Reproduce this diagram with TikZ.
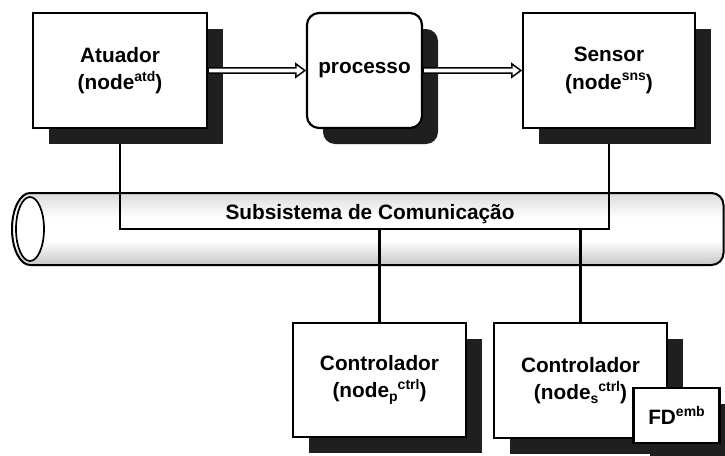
\documentclass[tikz,border=0pt]{standalone}
\usepackage{fontspec}
\setmainfont{Liberation Sans}
\usetikzlibrary{shadows,backgrounds,calc}

% raised / lowered index text after a word
\newcommand\supx[1]{\raisebox{8.5pt}{\fontsize{14}{14}\selectfont #1}}
\newcommand\subx[1]{\raisebox{-4pt}{\fontsize{14}{14}\selectfont #1}}

% hollow double-line arrow between two anchors at the height of the first
\newcommand\hollowarrow[2]{%
  \path[draw=black, line width=1.5pt, fill=white, line join=miter, miter limit=4]
    let \p1=(#1), \p2=(#2) in
    (\x1,\y1+2.7pt) -- (\x2-10pt,\y1+2.7pt) -- (\x2-10pt,\y1+6.6pt) -- (\x2-1pt,\y1)
    -- (\x2-10pt,\y1-6.6pt) -- (\x2-10pt,\y1-2.7pt) -- (\x1,\y1-2.7pt) -- cycle;}

% tube body: grey rims, white middle
\pgfdeclareverticalshading{tubeshade}{100bp}{%
  color(0bp)=(black!22); color(25bp)=(black!22); color(42bp)=(white);
  color(58bp)=(white); color(75bp)=(black!14); color(100bp)=(black!14)}

\begin{document}
\begin{tikzpicture}[x=1pt,y=-1pt,
  font=\fontsize{20.8}{27.5}\selectfont\bfseries,
  box/.style={draw=black, line width=2.2pt, fill=white, align=center, inner sep=0pt,
    general shadow={fill=black!88, shadow xshift=16pt, shadow yshift=-16pt}},
  wire/.style={draw=black, line width=2.1pt}]
\useasboundingbox (0,0) rectangle (725,455);

% process chain
\node[box, minimum width=174pt, minimum height=115pt] (atd) at (120,70.5)
  {Atuador\\(node\supx{atd})};
\node[box, rounded corners=12pt, minimum width=115pt, minimum height=115pt] (proc) at (364.5,70.5)
  {processo};
\node[box, minimum width=172pt, minimum height=115pt] (sns) at (609,70.5)
  {Sensor\\(node\supx{sns})};

% controllers
\node[box, minimum width=173pt, minimum height=114pt] (ctlp) at (379.5,380)
  {Controlador\\(node\subx{p}\supx{ctrl})};
\node[box, minimum width=173pt, minimum height=115pt] (ctls) at (580.5,380.5)
  {Controlador\\(node\subx{s}\supx{ctrl})};
\node[box, minimum width=86pt, minimum height=55pt] (fd) at (676.5,415.5)
  {FD\supx{emb}};

% communication subsystem label
\node[anchor=base] (bus) at (370,219) {Subsistema de Comunicação};

\begin{scope}[on background layer]
  % the tube
  \draw[line width=2pt, shading=tubeshade]
    (30,193) [rounded corners=12pt] -- (723.5,193) -- (723.5,265) [sharp corners] -- (30,265)
    arc[start angle=270, end angle=90, x radius=18pt, y radius=36pt] -- cycle;
  \draw[line width=1.7pt, fill=white] (30,229) ellipse[x radius=14pt, y radius=32pt];
  % bus wiring
  \coordinate (busline) at (0,229);
  \draw[wire] (atd.south) -- (atd.south |- busline) -- (sns.south |- busline) -- (sns.south);
  \draw[wire] (ctlp.north) -- (ctlp.north |- busline);
  \draw[wire] (ctls.north) -- (ctls.north |- busline);
\end{scope}

% material flow
\hollowarrow{atd.east}{proc.west}
\hollowarrow{proc.east}{sns.west}
\end{tikzpicture}
\end{document}
